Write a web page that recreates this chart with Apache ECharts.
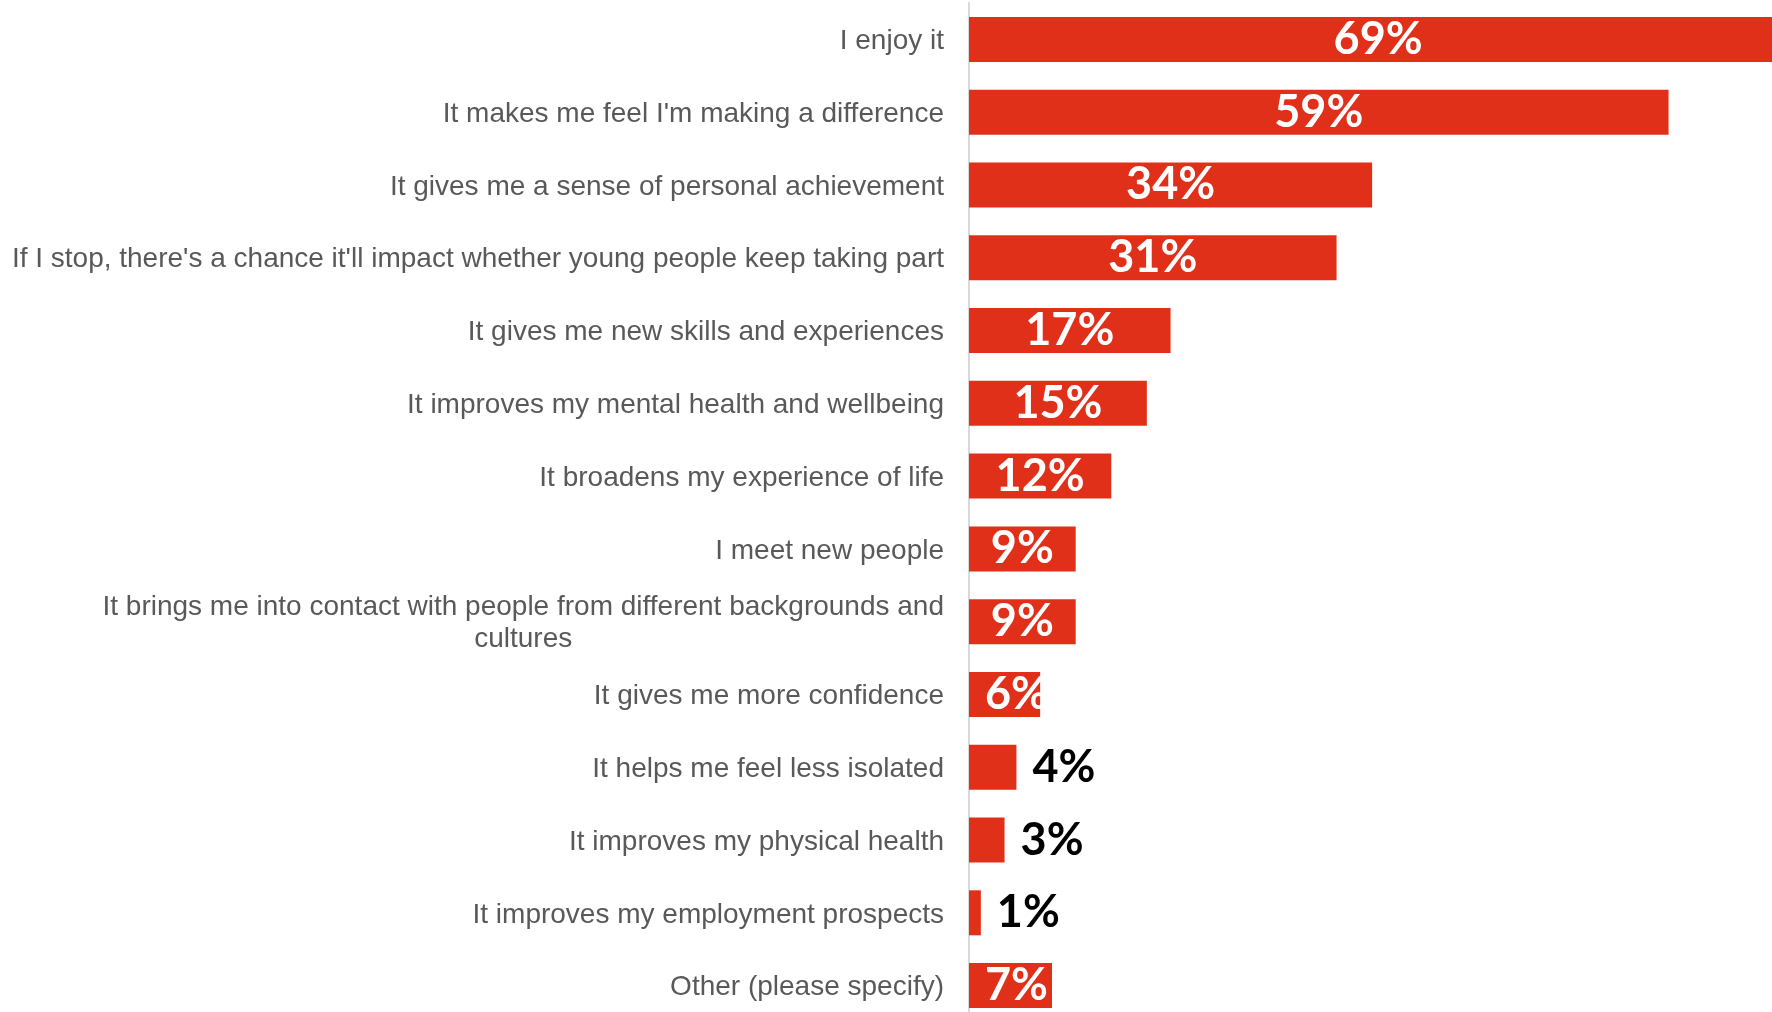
<!DOCTYPE html>
<html>
<head>
<meta charset="utf-8">
<title>Reasons for volunteering</title>
<script src="https://cdn.jsdelivr.net/npm/echarts@6/dist/echarts.min.js"></script>
<style>
  html, body { margin: 0; padding: 0; background: #ffffff; overflow: hidden; width: 1772px; height: 1012px; }
  #chart { position: absolute; left: 0; top: 0; width: 1800px; height: 1030px; }
</style>
</head>
<body>
<div id="chart"></div>
<script>
// Reasons given, in the order shown from top to bottom
const reasons = [
  "I enjoy it",
  "It makes me feel I'm making a difference",
  "It gives me a sense of personal achievement",
  "If I stop, there's a chance it'll impact whether young people keep taking part",
  "It gives me new skills and experiences",
  "It improves my mental health and wellbeing",
  "It broadens my experience of life",
  "I meet new people",
  "It brings me into contact with people from different backgrounds and\ncultures",
  "It gives me more confidence",
  "It helps me feel less isolated",
  "It improves my physical health",
  "It improves my employment prospects",
  "Other (please specify)"
];

// Share of respondents (%)
const shares = [69, 59, 34, 31, 17, 15, 12, 9, 9, 6, 4, 3, 1, 7];

const BAR_RED = '#E1301A';
const LABEL_FONT = '"Liberation Sans", Arial, sans-serif';

// Wide bars carry their value inside in white; tiny bars get it outside in black;
// narrow-but-fitting bars start the label near the bar's base.
function labelFor(v) {
  if (v < 5) {
    return { show: true, position: 'right', distance: 16, color: '#000000' };
  }
  if (v < 8) {
    return { show: true, position: 'insideLeft', distance: 16, color: '#ffffff' };
  }
  return { show: true, position: 'inside', color: '#ffffff' };
}

const chart = echarts.init(document.getElementById('chart'), null, { renderer: 'canvas' });

chart.setOption({
  animation: false,
  backgroundColor: '#ffffff',
  grid: { left: 969, top: 3, width: 830, height: 1019, containLabel: false },
  xAxis: {
    type: 'value',
    min: 0,
    max: 70,
    show: false
  },
  yAxis: {
    type: 'category',
    inverse: true,
    data: reasons,
    axisLine: { show: true, lineStyle: { color: '#d9d9d9', width: 2 } },
    axisTick: { show: false },
    axisLabel: {
      margin: 25,
      color: '#595959',
      fontFamily: LABEL_FONT,
      fontSize: 28,
      lineHeight: 32,
      padding: [4, 0, 0, 0],
      formatter: function (val) {
        if (val.indexOf('\n') >= 0) {
          return val.split('\n').map(function (s) { return '{c|' + s + '}'; }).join('\n');
        }
        return val;
      },
      rich: {
        c: {
          align: 'center',
          color: '#595959',
          fontFamily: LABEL_FONT,
          fontSize: 28,
          lineHeight: 32
        }
      }
    }
  },
  series: [{
    type: 'bar',
    barWidth: 45,
    clip: false,
    itemStyle: { color: BAR_RED },
    label: {
      fontFamily: 'Lato, "Open Sans", sans-serif',
      fontWeight: 'bold',
      fontSize: 45,
      padding: [4, 0, 0, 0],
      formatter: '{c}%'
    },
    data: shares.map(function (v) {
      return { value: v, label: labelFor(v) };
    })
  }]
});
</script>
</body>
</html>
